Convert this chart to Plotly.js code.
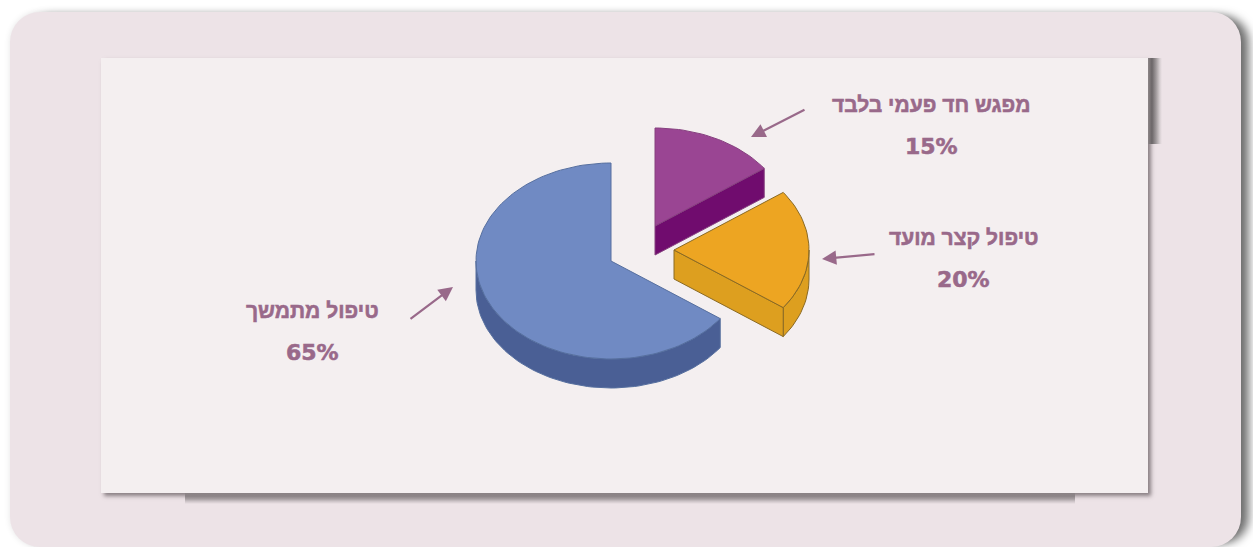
<!DOCTYPE html>
<html lang="he">
<head>
<meta charset="utf-8">
<script src="https://cdn.plot.ly/plotly-3.0.1.min.js"></script>
<style>
html,body{margin:0;padding:0;width:1253px;height:547px;overflow:hidden;background:#fff}
.abs{position:absolute}
#outer{left:10px;top:12px;width:1231px;height:535px;background:#ede3e7;border-radius:30px;box-shadow:12px 0 10px -4px rgba(0,0,0,.55),0 0 6px rgba(0,0,0,.10)}
#panel{left:101px;top:58px;width:1047px;height:435px;background:#f4eff0;box-shadow:3px 3px 4px rgba(70,60,65,.6)}
#stripR{left:1148px;top:58px;width:14px;height:86px;background:linear-gradient(to right,#8c8587 0%,#6b6668 28%,#a09a9c 58%,#d8d0d3 85%,#ede3e7 100%)}
#stripB{left:185px;top:493px;width:890px;height:11px;background:linear-gradient(to bottom,#8a8285 0%,#8d8588 30%,#a8a0a3 55%,#cbc2c6 75%,#ede3e7 100%)}
#chart{left:0;top:0;width:1253px;height:547px}
.annotation-text{stroke:#99698a;stroke-width:.55px}
</style>
</head>
<body>
<div id="outer" class="abs"></div>
<div id="panel" class="abs"></div>
<div id="stripR" class="abs"></div>
<div id="stripB" class="abs"></div>
<div id="chart" class="abs"></div>
<script>
// Data
const categories = ["מפגש חד פעמי בלבד", "טיפול קצר מועד", "טיפול מתמשך"];
const shares = [15, 20, 65];
const percentLabels = ["15%", "20%", "65%"];

// Styling and placement
const topColors  = ["#9a4593", "#eda522", "#708ac3"];
const sideColors = ["#700c6e", "#dd9f1f", "#4a5f95"];
const edgeColors = ["#86407f", "#8a6a24", "#566f9f"];
const apexX = [655, 674, 611];
const apexY = [226, 250, 261];
const RX = 135, RY = 98, DEPTH = 29;
const labelX = [931, 963, 312];
const nameY = [104, 237, 310];
const pctY = [146, 279, 352];
const arrowTailX = [806, 876, 409], arrowTailY = [109, 254, 320];
const arrowHeadX = [751, 822, 453], arrowHeadY = [137, 259, 287];
const TEXT = "#99698a";

// Angles run clockwise from 12 o'clock, in degrees
function arc(i, a0, a1, dy) {
  const xs = [], ys = [], n = Math.max(2, Math.ceil(Math.abs(a1 - a0) / 2));
  for (let k = 0; k <= n; k++) {
    const t = (a0 + (a1 - a0) * k / n) * Math.PI / 180;
    xs.push(apexX[i] + RX * Math.sin(t));
    ys.push(apexY[i] - RY * Math.cos(t) + dy);
  }
  return {xs, ys};
}
function poly(xs, ys, fill, edge, name) {
  return {type: "scatter", mode: "lines", x: xs, y: ys, fill: "toself", fillcolor: fill,
          line: {color: edge, width: 1}, hoverinfo: "skip", showlegend: false, name};
}
const spans = [];
let acc = 0;
shares.forEach(v => { spans.push([acc * 3.6, (acc + v) * 3.6]); acc += v; });

const walls = [], tops = [];
shares.forEach((v, i) => {
  const [a0, a1] = spans[i];
  // outer rim that faces the viewer
  const r0 = Math.max(a0, 90), r1 = Math.min(a1, 270);
  if (r1 > r0) {
    const up = arc(i, r0, r1, 0), dn = arc(i, r1, r0, DEPTH);
    walls.push(poly(up.xs.concat(dn.xs, [up.xs[0]]), up.ys.concat(dn.ys, [up.ys[0]]), sideColors[i], edgeColors[i], categories[i]));
  }
  // the cut face at the clockwise end of a slice that ends in the right half faces the viewer
  if (a1 > 0 && a1 < 180) {
    const p = arc(i, a1, a1, 0);
    const ex = p.xs[0], ey = p.ys[0];
    walls.push(poly([apexX[i], ex, ex, apexX[i], apexX[i]],
                    [apexY[i], ey, ey + DEPTH, apexY[i] + DEPTH, apexY[i]],
                    sideColors[i], edgeColors[i], categories[i]));
  }
  const t = arc(i, a0, a1, 0);
  tops.push(poly([apexX[i]].concat(t.xs, [apexX[i]]), [apexY[i]].concat(t.ys, [apexY[i]]), topColors[i], edgeColors[i], categories[i]));
});

const annotations = [];
categories.forEach((c, i) => {
  annotations.push({x: labelX[i], y: nameY[i], xref: "x", yref: "y", text: "<b>" + c + "</b>", showarrow: false,
    xanchor: "center", yanchor: "middle", font: {family: "Liberation Sans, Arial, sans-serif", size: 21, color: TEXT}});
  annotations.push({x: labelX[i], y: pctY[i], xref: "x", yref: "y", text: "<b>" + percentLabels[i] + "</b>", showarrow: false,
    xanchor: "center", yanchor: "middle", font: {family: "DejaVu Sans, sans-serif", size: 22, color: TEXT}});
  annotations.push({x: arrowHeadX[i], y: arrowHeadY[i], ax: arrowTailX[i], ay: arrowTailY[i], xref: "x", yref: "y", axref: "x", ayref: "y",
    text: "", showarrow: true, arrowhead: 2, arrowsize: 1.3, arrowwidth: 2.2, arrowcolor: TEXT});
});

Plotly.newPlot("chart", walls.concat(tops), {
  width: 1253, height: 547,
  margin: {l: 0, r: 0, t: 0, b: 0},
  paper_bgcolor: "rgba(0,0,0,0)", plot_bgcolor: "rgba(0,0,0,0)",
  xaxis: {range: [0, 1253], visible: false, fixedrange: true},
  yaxis: {range: [547, 0], visible: false, fixedrange: true},
  showlegend: false,
  annotations
}, {displayModeBar: false, staticPlot: true});
</script>
</body>
</html>
